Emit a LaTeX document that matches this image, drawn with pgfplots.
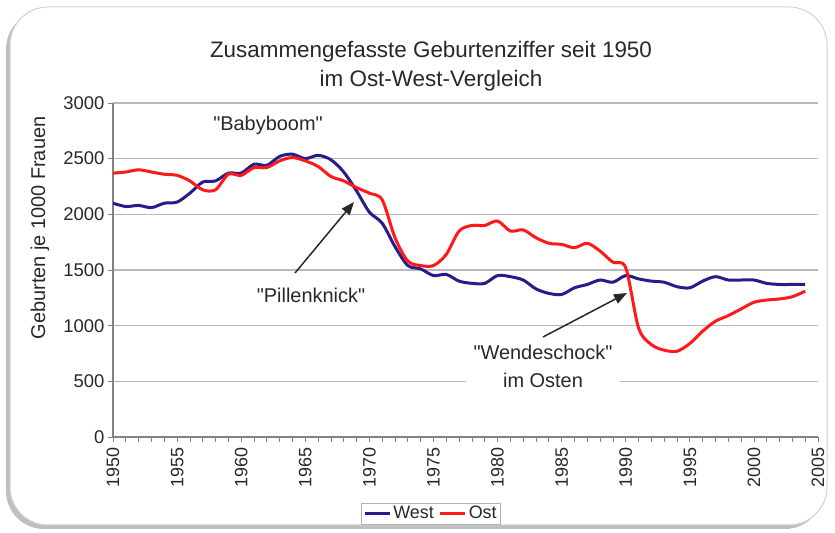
\documentclass[border=0pt]{standalone}
\usepackage{fontspec}
\setmainfont{Liberation Sans}[Ligatures=TeXOff]
\usepackage{pgfplots}
\pgfplotsset{compat=1.18}
\usepackage{pgfplotstable}
\usetikzlibrary{arrows.meta,shadows}
\definecolor{westblue}{RGB}{40,28,140}
\definecolor{ostred}{RGB}{255,25,25}
\definecolor{gridgray}{RGB}{185,185,185}
\definecolor{axisgray}{RGB}{130,130,130}
\definecolor{txt}{RGB}{40,40,40}
\newcommand{\q}{\symbol{34}}

\pgfplotstableread{
year west
1950 2100
1951 2070
1952 2080
1953 2060
1954 2100
1955 2110
1956 2190
1957 2290
1958 2300
1959 2370
1960 2370
1961 2450
1962 2440
1963 2520
1964 2540
1965 2500
1966 2530
1967 2490
1968 2380
1969 2210
1970 2020
1971 1920
1972 1710
1973 1540
1974 1510
1975 1450
1976 1460
1977 1400
1978 1380
1979 1380
1980 1450
1981 1440
1982 1410
1983 1330
1984 1290
1985 1280
1986 1340
1987 1370
1988 1410
1989 1390
1990 1450
1991 1420
1992 1400
1993 1390
1994 1350
1995 1340
1996 1400
1997 1440
1998 1410
1999 1410
2000 1410
2001 1380
2002 1370
2003 1370
2004 1370
}\westdata

\pgfplotstableread{
year ost
1950 2370
1951 2380
1952 2400
1953 2380
1954 2360
1955 2350
1956 2300
1957 2220
1958 2220
1959 2360
1960 2350
1961 2420
1962 2420
1963 2480
1964 2510
1965 2480
1966 2430
1967 2340
1968 2300
1969 2240
1970 2190
1971 2130
1972 1790
1973 1580
1974 1540
1975 1540
1976 1640
1977 1850
1978 1900
1979 1900
1980 1940
1981 1850
1982 1860
1983 1790
1984 1740
1985 1730
1986 1700
1987 1740
1988 1670
1989 1570
1990 1520
1991 980
1992 830
1993 780
1994 770
1995 840
1996 950
1997 1040
1998 1090
1999 1150
2000 1210
2001 1230
2002 1240
2003 1260
2004 1310
}\ostdata

\begin{document}
\begin{tikzpicture}[x=1bp,y=1bp]
\useasboundingbox (0,0) rectangle (835,533);
\fill[white] (0,0) rectangle (835,533);
\draw[draw=gray!35, line width=1bp, fill=white, rounded corners=38bp,
  drop shadow={shadow xshift=-4bp, shadow yshift=-4bp, opacity=0.5}]
  (10,8) rectangle (827,526);

\begin{axis}[
  at={(113bp,96bp)}, anchor=south west,
  scale only axis, width=705bp, height=334bp,
  xmin=1950, xmax=2005, ymin=0, ymax=3000,
  axis x line*=bottom, axis y line*=left,
  axis line style={axisgray, line width=1.2bp},
  xtick={1950,1955,...,2005}, minor x tick num=4,
  ytick={0,500,...,3000},
  tick align=outside, major tick length=5bp, minor tick length=5bp,
  tick style={axisgray, line width=0.8bp},
  ymajorgrids, major grid style={gridgray, line width=1.2bp},
  /pgf/number format/assume math mode=true,
  /pgf/number format/set thousands separator={},
  x tick label style={rotate=90, anchor=east, font=\fontsize{18}{20}\selectfont, text=txt, xshift=-2bp},
  y tick label style={font=\fontsize{18.5}{20}\selectfont, text=txt},
  legend style={at={(0.451,-0.229)}, anchor=center, legend columns=2,
    draw=gray!60, line width=0.8bp, font=\fontsize{18}{20}\selectfont,
    inner sep=1.5bp, text=txt,
    /tikz/every even column/.append style={column sep=3bp}},
  legend image code/.code={\draw[#1] (0bp,0bp) -- (25bp,0bp);},
]
\addplot[westblue, line width=3bp, smooth] table[x=year,y=west] {\westdata};
\addlegendentry{West}
\addplot[ostred, line width=3bp, smooth] table[x=year,y=ost] {\ostdata};
\addlegendentry{Ost}
\end{axis}

\node[anchor=base, font=\fontsize{22.5}{29}\selectfont, text=txt] at (431,475) {Zusammengefasste Geburtenziffer seit 1950};
\node[anchor=base, font=\fontsize{22.5}{29}\selectfont, text=txt] at (431,446) {im Ost-West-Vergleich};

\node[rotate=90, font=\fontsize{20}{24}\selectfont, text=txt] at (40,305) {Geburten je 1000 Frauen};

\node[font=\fontsize{20}{24}\selectfont, text=txt] at (268,408) {\q Babyboom\q};
\node[font=\fontsize{20}{24}\selectfont, text=txt] at (311,238) {\q Pillenknick\q};
\node[fill=white, align=center, inner xsep=8bp, inner ysep=3bp,
  font=\fontsize{20}{28}\selectfont, text=txt] at (543,167) {\q Wendeschock\q\\im Osten};

\draw[-{Triangle[length=13bp,width=10bp]}, line width=1.5bp, txt] (295,260) -- (354,331);
\draw[-{Triangle[length=13bp,width=10bp]}, line width=1.5bp, txt] (543,196) -- (627,240);
\end{tikzpicture}
\end{document}
